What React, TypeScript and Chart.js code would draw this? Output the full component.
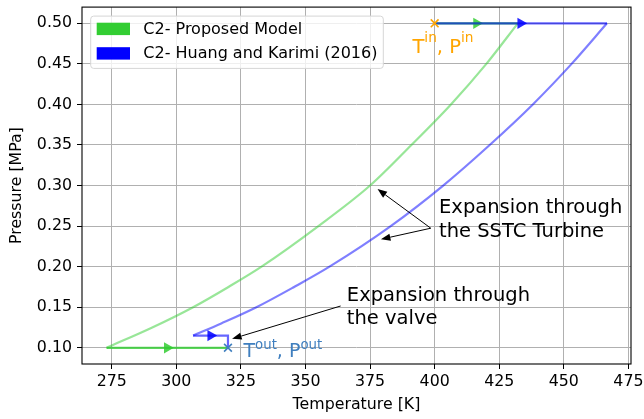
import React, { useEffect, useRef } from "react";
import { Chart, registerables } from "chart.js";

Chart.register(...registerables);

// ---------- data ----------
const greenPressure = [0.1, 0.125, 0.15, 0.175, 0.2, 0.25, 0.3, 0.35, 0.4, 0.45, 0.5];
const greenTemperature = [273, 290.7, 306.5, 320.2, 333, 355, 375, 391, 406.3, 420, 432.2];

const bluePressure = [0.115, 0.13, 0.15, 0.175, 0.2, 0.25, 0.3, 0.35, 0.4, 0.45, 0.5];
const blueTemperature = [306.5, 317.4, 331, 345.6, 359.3, 383, 403.3, 421.3, 438, 453, 466.7];

// heat-exchange / valve segments
const greenTopT = [400, 432.2];
const greenTopP = [0.5, 0.5];
const greenBottomT = [273, 320];
const greenBottomP = [0.1, 0.1];
const blueTopT = [400, 466.7];
const blueTopP = [0.5, 0.5];
const blueValveT = [306.5, 320, 320];
const blueValveP = [0.115, 0.115, 0.1];

// direction arrows (triangle markers)
const greenArrowT = [296.5, 416.2];
const greenArrowP = [0.1, 0.5];
const blueArrowT = [313.3, 433.3];
const blueArrowP = [0.115, 0.5];

// inlet / outlet markers
const inletT = [400];
const inletP = [0.5];
const outletT = [320];
const outletP = [0.1];

// axes
const xTicks = [275, 300, 325, 350, 375, 400, 425, 450, 475];
const yTicks = [0.1, 0.15, 0.2, 0.25, 0.3, 0.35, 0.4, 0.45, 0.5];
const xMin = 263.5;
const xMax = 476;
const yMin = 0.08;
const yMax = 0.52;

const legendLabels = ["C2- Proposed Model", "C2- Huang and Karimi (2016)"];
const legendColors = ["#32cd32", "#0000ff"];

// annotations (data coordinates)
const turbineText = ["Expansion through", "the SSTC Turbine"];
const turbineTextPos = { t: 401.7, p: 0.2659 };
const turbineTail = { t: 398.5, p: 0.2474 };
const turbineTips = [
  { t: 377.9, p: 0.2956 },
  { t: 379.2, p: 0.2338 },
];
const valveText = ["Expansion through", "the valve"];
const valveTextPos = { t: 366, p: 0.158 };
const valveTail = { t: 363.6, p: 0.1515 };
const valveTip = { t: 321.6, p: 0.111 };
const inletLabelPos = { t: 391.4, p: 0.4635 };
const outletLabelPos = { t: 326.0, p: 0.0881 };

const FONT = "'DejaVu Sans', 'Liberation Sans', sans-serif";

const pts = (xs: number[], ys: number[]) => xs.map((x, i) => ({ x, y: ys[i] }));

function drawArrow(ctx: CanvasRenderingContext2D, x1: number, y1: number, x2: number, y2: number) {
  const ang = Math.atan2(y2 - y1, x2 - x1);
  const hl = 9.5;
  const hw = 3.6;
  const bx = x2 - hl * Math.cos(ang);
  const by = y2 - hl * Math.sin(ang);
  ctx.beginPath();
  ctx.moveTo(x1, y1);
  ctx.lineTo(bx, by);
  ctx.stroke();
  ctx.beginPath();
  ctx.moveTo(x2, y2);
  ctx.lineTo(bx + hw * Math.sin(ang), by - hw * Math.cos(ang));
  ctx.lineTo(bx - hw * Math.sin(ang), by + hw * Math.cos(ang));
  ctx.closePath();
  ctx.fill();
}

function drawSup(
  ctx: CanvasRenderingContext2D,
  x: number,
  y: number,
  parts: [string, boolean][],
  size: number,
  supSize: number,
  raise: number
) {
  let cx = x;
  for (const [txt, sup] of parts) {
    ctx.font = `${sup ? supSize : size}px ${FONT}`;
    ctx.fillText(txt, cx, sup ? y - raise : y);
    cx += ctx.measureText(txt).width;
  }
}

const overlayPlugin = {
  id: "overlay",
  afterDraw(chart: any) {
    const { ctx, chartArea: ca, scales } = chart;
    const px = (t: number) => scales.x.getPixelForValue(t);
    const py = (p: number) => scales.y.getPixelForValue(p);
    ctx.save();

    // spines
    ctx.strokeStyle = "#000";
    ctx.lineWidth = 1.1;
    ctx.strokeRect(ca.left, ca.top, ca.right - ca.left, ca.bottom - ca.top);

    // inlet / outlet labels
    ctx.textBaseline = "alphabetic";
    ctx.textAlign = "left";
    ctx.fillStyle = "#ffa500";
    drawSup(ctx, px(inletLabelPos.t), py(inletLabelPos.p),
      [["T", false], ["in", true], [", ", false], ["P", false], ["in", true]], 19.5, 13.7, 11);
    ctx.fillStyle = "#3f7fbf";
    drawSup(ctx, px(outletLabelPos.t), py(outletLabelPos.p),
      [["T", false], ["out", true], [", ", false], ["P", false], ["out", true]], 19, 13.3, 8.5);

    // annotations
    ctx.fillStyle = "#000";
    ctx.strokeStyle = "#000";
    ctx.lineWidth = 1;
    ctx.font = `19.5px ${FONT}`;
    turbineText.forEach((s, i) => ctx.fillText(s, px(turbineTextPos.t), py(turbineTextPos.p) + i * 24));
    valveText.forEach((s, i) => ctx.fillText(s, px(valveTextPos.t), py(valveTextPos.p) + i * 23.6));
    turbineTips.forEach((tip) =>
      drawArrow(ctx, px(turbineTail.t), py(turbineTail.p), px(tip.t), py(tip.p))
    );
    drawArrow(ctx, px(valveTail.t), py(valveTail.p), px(valveTip.t), py(valveTip.p));

    // legend
    const lx = ca.left + 8.7;
    const ly = ca.top + 9;
    const lw = 292.6;
    const lh = 52.3;
    ctx.beginPath();
    ctx.roundRect(lx, ly, lw, lh, 3);
    ctx.fillStyle = "rgba(255,255,255,0.8)";
    ctx.fill();
    ctx.strokeStyle = "#d6d6d6";
    ctx.lineWidth = 1;
    ctx.stroke();
    ctx.font = `16px ${FONT}`;
    ctx.textBaseline = "middle";
    legendLabels.forEach((lab, i) => {
      const cy = ly + 12.8 + i * 24.5;
      ctx.fillStyle = legendColors[i];
      ctx.fillRect(lx + 6, cy - 6.2, 33.3, 12.4);
      ctx.fillStyle = "#000";
      ctx.fillText(lab, lx + 52.6, cy + 0.5);
    });

    ctx.restore();
  },
};

export default function App() {
  const canvasRef = useRef<HTMLCanvasElement | null>(null);

  useEffect(() => {
    document.body.style.margin = "0";
    const canvas = canvasRef.current;
    if (!canvas) return;

    const tickFont = { family: FONT, size: 15.8 };
    const gridCfg = {
      color: "#b0b0b0",
      lineWidth: 1,
      drawTicks: true,
      tickLength: 5,
      tickColor: "#000",
      tickWidth: 1,
    };

    const chart = new Chart(canvas, {
      type: "scatter",
      data: {
        datasets: [
          {
            label: "green curve",
            data: pts(greenTemperature, greenPressure),
            showLine: true,
            borderColor: "rgba(50,205,50,0.5)",
            borderWidth: 2.2,
            pointRadius: 0,
            cubicInterpolationMode: "monotone",
            order: 6,
          },
          {
            label: "green bottom",
            data: pts(greenBottomT, greenBottomP),
            showLine: true,
            borderColor: "rgba(50,205,50,0.8)",
            borderWidth: 2.2,
            pointRadius: 0,
            order: 5,
          },
          {
            label: "green top",
            data: pts(greenTopT, greenTopP),
            showLine: true,
            borderColor: "rgba(50,205,50,0.8)",
            borderWidth: 2.2,
            pointRadius: 0,
            order: 5,
          },
          {
            label: "green arrows",
            data: pts(greenArrowT, greenArrowP),
            pointStyle: "triangle",
            rotation: 90,
            radius: 6.5,
            backgroundColor: "rgba(50,205,50,0.85)",
            borderColor: "rgba(50,205,50,0.85)",
            borderWidth: 0,
            order: 4,
          },
          {
            label: "blue curve",
            data: pts(blueTemperature, bluePressure),
            showLine: true,
            borderColor: "rgba(0,0,255,0.5)",
            borderWidth: 2.2,
            pointRadius: 0,
            cubicInterpolationMode: "monotone",
            order: 3,
          },
          {
            label: "blue top",
            data: pts(blueTopT, blueTopP),
            showLine: true,
            borderColor: "rgba(0,0,255,0.6)",
            borderWidth: 2.2,
            pointRadius: 0,
            order: 2,
          },
          {
            label: "blue valve",
            data: pts(blueValveT, blueValveP),
            showLine: true,
            borderColor: "rgba(0,0,255,0.6)",
            borderWidth: 2.2,
            pointRadius: 0,
            order: 2,
          },
          {
            label: "blue arrows",
            data: pts(blueArrowT, blueArrowP),
            pointStyle: "triangle",
            rotation: 90,
            radius: 6.5,
            backgroundColor: "rgba(0,0,255,0.85)",
            borderColor: "rgba(0,0,255,0.85)",
            borderWidth: 0,
            order: 1,
          },
          {
            label: "inlet",
            data: pts(inletT, inletP),
            pointStyle: "crossRot",
            radius: 5.5,
            borderColor: "#ffa500",
            borderWidth: 1.6,
            order: 0,
          },
          {
            label: "outlet",
            data: pts(outletT, outletP),
            pointStyle: "crossRot",
            radius: 5.5,
            borderColor: "#3f7fbf",
            borderWidth: 1.6,
            order: 0,
          },
        ],
      },
      options: {
        animation: false,
        responsive: true,
        maintainAspectRatio: false,
        layout: { padding: { top: 7, right: 13, left: 0, bottom: 0 } },
        plugins: {
          legend: { display: false },
          tooltip: { enabled: false },
        },
        scales: {
          x: {
            type: "linear",
            min: xMin,
            max: xMax,
            afterBuildTicks: (axis: any) => {
              axis.ticks = xTicks.map((v) => ({ value: v }));
            },
            afterFit: (axis: any) => {
              axis.height = 55;
              axis.paddingLeft = 0;
              axis.paddingRight = 0;
            },
            grid: gridCfg,
            border: { display: false },
            ticks: {
              font: tickFont,
              color: "#000",
              padding: 3,
              maxRotation: 0,
              callback: (v: any) => String(v),
            },
            title: {
              display: true,
              text: "Temperature [K]",
              color: "#000",
              font: tickFont,
              padding: { top: 0, bottom: 4.3 },
            },
          },
          y: {
            type: "linear",
            min: yMin,
            max: yMax,
            afterBuildTicks: (axis: any) => {
              axis.ticks = yTicks.map((v) => ({ value: v }));
            },
            afterFit: (axis: any) => {
              axis.width = 82;
              axis.paddingTop = 0;
              axis.paddingBottom = 0;
            },
            grid: gridCfg,
            border: { display: false },
            ticks: {
              font: tickFont,
              color: "#000",
              padding: 5,
              callback: (v: any) => Number(v).toFixed(2),
            },
            title: {
              display: true,
              text: "Pressure [MPa]",
              color: "#000",
              font: tickFont,
              padding: { top: 7.9, bottom: 0 },
            },
          },
        },
      },
      plugins: [overlayPlugin],
    } as any);

    return () => chart.destroy();
  }, []);

  return (
    <div style={{ position: "relative", width: 644, height: 419 }}>
      <canvas ref={canvasRef} style={{ display: "block" }} />
    </div>
  );
}
